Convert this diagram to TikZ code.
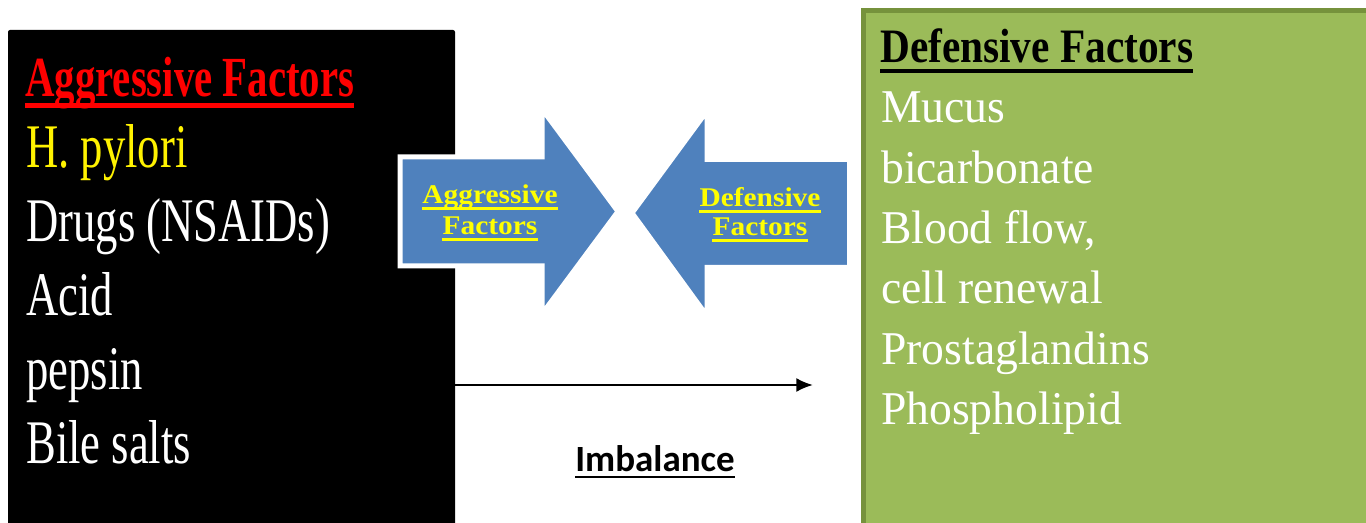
\documentclass[tikz,border=0pt]{standalone}
\usepackage{fontspec}
\usetikzlibrary{arrows.meta}
\newfontfamily\aggfont[FakeStretch=0.72]{Liberation Serif}
\newfontfamily\deffont[FakeStretch=0.97]{Liberation Serif}
\newfontfamily\defheadfont[FakeStretch=0.86]{Liberation Serif}
\newfontfamily\tagfont[FakeStretch=1.09]{Liberation Serif}
\newfontfamily\notefont{Carlito}
\definecolor{arrowblue}{HTML}{4F81BD}
\definecolor{defgreen}{HTML}{9BBB59}
\definecolor{defedge}{HTML}{76923C}
\definecolor{tagyellow}{HTML}{FFFF00}

\begin{document}
\begin{tikzpicture}[>=Latex,x=0.75pt,y=-0.75pt,
  every node/.style={inner sep=0pt},
  bigarrow/.style={fill=arrowblue,draw=white,line width=3.75pt},
  aggitem/.style={anchor=base west,text=white,font={\aggfont\fontsize{46.5pt}{46.5pt}\selectfont}},
  defitem/.style={anchor=base west,text=white,font={\deffont\fontsize{35.25pt}{35.25pt}\selectfont}},
  tag/.style={anchor=base,text=tagyellow,font={\tagfont\bfseries\fontsize{20.25pt}{20.25pt}\selectfont}}]
  \useasboundingbox (0,0) rectangle (1366,523);
  \clip (0,0) rectangle (1366,523);
  % the two panels
  \fill[black,rounded corners=1.5pt] (8,30) rectangle (455,540);
  \draw[fill=defgreen,draw=defedge,line width=3.75pt] (863.5,10.5) rectangle (1380,540);
  % aggressive side
  \node[anchor=base west,text=red,font={\aggfont\bfseries\fontsize{42.5pt}{42.5pt}\selectfont}] (agghead) at (25,97) {Aggressive Factors};
  \draw[red,line width=3.75pt] ([yshift=-6.75pt]agghead.base west) -- ([yshift=-6.75pt]agghead.base east);
  \node[aggitem,text=yellow] (agg0) at (26,168) {H. pylori};
  \foreach \txt [count=\i] in {Drugs (NSAIDs),Acid,pepsin,Bile salts}
    \node[aggitem] (agg\i) at (26,168+73.75*\i) {\txt};
  % defensive side
  \node[anchor=base west,text=black,font={\defheadfont\bfseries\fontsize{36pt}{36pt}\selectfont}] (defhead) at (880,63) {Defensive Factors};
  \draw[black,line width=2.4pt] ([yshift=-6pt]defhead.base west) -- ([yshift=-6pt]defhead.base east);
  \foreach \txt [count=\i from 0] in {Mucus,bicarbonate,{Blood flow,},cell renewal,Prostaglandins,Phospholipid}
    \node[defitem] (def\i) at (881,123+60.3*\i) {\txt};
  % block arrows facing each other
  \draw[bigarrow] (400,157) -- (542,157) -- (542,109) -- (618,211.5) -- (542,314) -- (542,266) -- (400,266) -- cycle;
  \draw[bigarrow] (849.5,159.5) -- (707,159.5) -- (707,111) -- (632,213) -- (707,316) -- (707,267.5) -- (849.5,267.5) -- cycle;
  \node[tag] (aggtag1) at (490,204) {Aggressive};
  \node[tag] (aggtag2) at (490,235) {Factors};
  \node[tag] (deftag1) at (760,207) {Defensive};
  \node[tag] (deftag2) at (760,236) {Factors};
  \foreach \n in {aggtag1,aggtag2,deftag1,deftag2}
    \draw[tagyellow,line width=1.6pt] ([yshift=-3.4pt]\n.base west) -- ([yshift=-3.4pt]\n.base east);
  % imbalance
  \coordinate (imbstart) at (455,385);
  \coordinate (imbend) at (813,385);
  \draw[-{Latex[length=12.5pt,width=10.5pt]},line width=1.7pt] (imbstart) -- (imbend);
  \node[anchor=base,font={\notefont\bfseries\fontsize{27.75pt}{27.75pt}\selectfont}] (imb) at (655,471) {Imbalance};
  \draw[line width=2pt] ([yshift=-4.5pt]imb.base west) -- ([yshift=-4.5pt]imb.base east);
\end{tikzpicture}
\end{document}
